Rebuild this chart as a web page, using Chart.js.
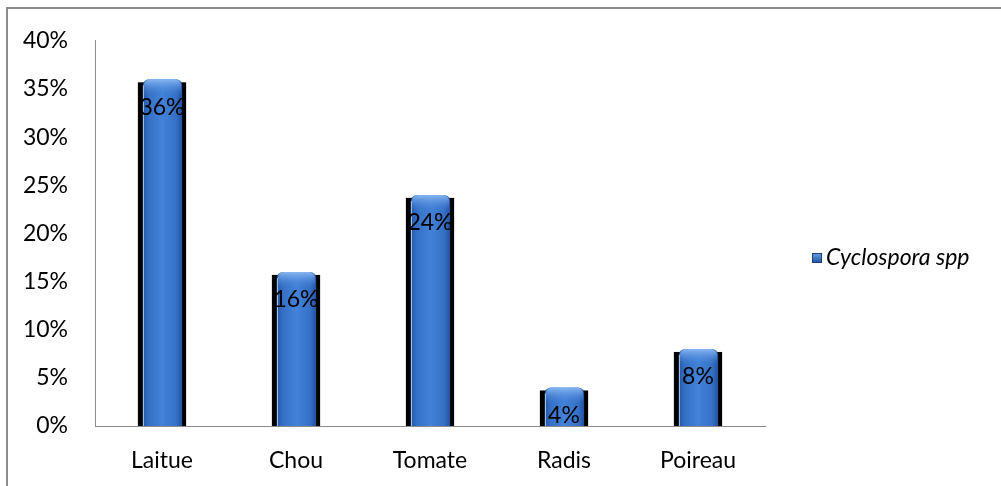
<!DOCTYPE html>
<html>
<head>
<meta charset="utf-8">
<script src="https://cdn.jsdelivr.net/npm/chart.js@4"></script>
<style>
  html, body { margin: 0; padding: 0; background: #fff; }
  #wrap { width: 1001px; height: 486px; position: relative; }
</style>
</head>
<body>
<div id="wrap"><canvas id="c" width="1001" height="486"></canvas></div>
<script>
// Prevalence of Cyclospora spp per vegetable
const categories = ['Laitue', 'Chou', 'Tomate', 'Radis', 'Poireau'];
const seriesName = 'Cyclospora spp';
const prevalence = [36, 16, 24, 4, 8];          // percent
const yTicks = [0, 5, 10, 15, 20, 25, 30, 35, 40]; // percent

const FONT = 'Lato, "Open Sans", sans-serif';
const FSIZE = 23;

// Cylinder-like bar with dark side bands and a glossy top cap
function drawBar(ctx, bar) {
  const x = bar.x, top = bar.y, base = bar.base, w = bar.width;
  const half = w / 2;
  ctx.save();
  // dark side bands
  ctx.fillStyle = '#000';
  ctx.fillRect(x - half, top + 3, w, base - top - 3);
  // main body
  const l = x - half + 5, r = x + half - 4;
  const g = ctx.createLinearGradient(l, 0, r, 0);
  g.addColorStop(0, '#2358a8');
  g.addColorStop(0.15, '#3570c6');
  g.addColorStop(0.5, '#4282d8');
  g.addColorStop(0.85, '#3570c6');
  g.addColorStop(1, '#21529e');
  ctx.fillStyle = g;
  ctx.beginPath();
  ctx.roundRect(l, top, r - l, base - top, [6, 6, 0, 0]);
  ctx.fill();
  // light edge next to left band
  ctx.fillStyle = 'rgba(210,230,255,0.8)';
  ctx.fillRect(l, top + 6, 1, base - top - 6);
  // glossy top cap
  const capH = Math.min(16, base - top);
  const cg = ctx.createLinearGradient(0, top, 0, top + capH);
  cg.addColorStop(0, '#88b8f2');
  cg.addColorStop(1, 'rgba(70,130,215,0)');
  ctx.fillStyle = cg;
  ctx.beginPath();
  ctx.roundRect(l + 1, top, r - l - 2, capH, [6, 6, 0, 0]);
  ctx.fill();
  ctx.restore();
}

const customDraw = {
  id: 'customDraw',
  beforeDraw(chart) {
    const ctx = chart.ctx;
    ctx.save();
    ctx.fillStyle = '#fff';
    ctx.fillRect(0, 0, chart.width, chart.height);
    // outer frame (top and left edges)
    ctx.strokeStyle = '#8c8c8c';
    ctx.lineWidth = 2;
    ctx.beginPath();
    ctx.moveTo(7, chart.height);
    ctx.lineTo(7, 8);
    ctx.lineTo(chart.width, 8);
    ctx.stroke();
    ctx.restore();
  },
  afterDatasetsDraw(chart) {
    const ctx = chart.ctx;
    const meta = chart.getDatasetMeta(0);
    meta.data.forEach(bar => drawBar(ctx, bar));
    // value labels
    ctx.save();
    ctx.fillStyle = '#000';
    ctx.font = FSIZE + 'px ' + FONT;
    ctx.textAlign = 'center';
    ctx.textBaseline = 'middle';
    meta.data.forEach((bar, i) => {
      ctx.fillText(prevalence[i] + '%', bar.x, bar.y + 28);
    });
    ctx.restore();
    // legend
    const lx = 812, ly = 258;
    ctx.save();
    const lg = ctx.createLinearGradient(0, ly - 5, 0, ly + 5);
    lg.addColorStop(0, '#6aa0e6');
    lg.addColorStop(1, '#1f4f9c');
    ctx.fillStyle = lg;
    ctx.fillRect(lx, ly - 5, 10, 10);
    ctx.strokeStyle = '#1b3f78';
    ctx.lineWidth = 1;
    ctx.strokeRect(lx + 0.5, ly - 4.5, 9, 9);
    ctx.fillStyle = '#000';
    ctx.font = 'italic ' + FSIZE + 'px ' + FONT;
    ctx.textAlign = 'left';
    ctx.textBaseline = 'middle';
    ctx.fillText(seriesName, lx + 14, ly);
    ctx.restore();
  }
};

new Chart(document.getElementById('c'), {
  type: 'bar',
  data: {
    labels: categories,
    datasets: [{
      label: seriesName,
      data: prevalence,
      backgroundColor: 'rgba(0,0,0,0)',
      borderWidth: 0,
      categoryPercentage: 0.36,
      barPercentage: 1
    }]
  },
  options: {
    responsive: false,
    animation: false,
    events: [],
    layout: { padding: { top: 36, right: 236, left: 0, bottom: 0 } },
    plugins: { legend: { display: false }, tooltip: { enabled: false } },
    scales: {
      x: {
        grid: { display: false, drawTicks: false },
        border: { display: true, color: '#8c8c8c', width: 1 },
        ticks: { color: '#000', font: { family: FONT, size: FSIZE }, padding: 21 },
        afterFit(s) { s.height = 60; }
      },
      y: {
        min: 0, max: 40,
        grid: { display: false, drawTicks: false },
        border: { display: true, color: '#8c8c8c', width: 1 },
        afterBuildTicks(s) { s.ticks = yTicks.map(v => ({ value: v })); },
        ticks: {
          color: '#000',
          font: { family: FONT, size: FSIZE },
          padding: 27,
          callback: v => v + '%'
        },
        afterFit(s) { s.width = 95; }
      }
    }
  },
  plugins: [customDraw]
});
</script>
</body>
</html>
